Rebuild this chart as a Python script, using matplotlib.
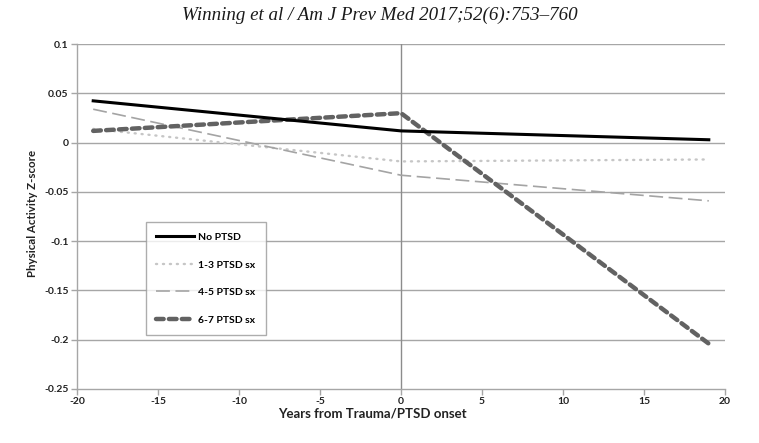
import matplotlib
matplotlib.use("Agg")
import matplotlib.pyplot as plt

plt.rcParams['font.family'] = ['Lato', 'DejaVu Sans']
plt.rcParams['lines.scale_dashes'] = False

# years relative to trauma / PTSD onset
years = [-19, 0, 19]
no_ptsd = [0.0425, 0.012, 0.003]
ptsd_1_3 = [0.014, -0.019, -0.017]
ptsd_4_5 = [0.034, -0.033, -0.059]
ptsd_6_7 = [0.012, 0.030, -0.204]

xticks = [-20, -15, -10, -5, 0, 5, 10, 15, 20]
yticks = [0.1, 0.05, 0, -0.05, -0.1, -0.15, -0.2, -0.25]
ytick_labels = ['0.1', '0.05', '0', '-0.05', '-0.1', '-0.15', '-0.2', '-0.25']

grid_col = '#a6a6a6'

fig = plt.figure(figsize=(7.59, 4.43), dpi=100)
ax = fig.add_axes([77/759, 1 - 389/443, 648/759, 344.8/443])

for y in yticks[:-1]:
    ax.axhline(y, color=grid_col, lw=1.0, zorder=1)
ax.axvline(0, color='#8c8c8c', lw=1.0, zorder=1)

ax.plot(years, no_ptsd, color='black', lw=2.2, label='No PTSD', zorder=5)
ax.plot(years, ptsd_1_3, color='#c6c6c6', lw=1.7, dashes=(0.8, 4.2),
        dash_capstyle='round', label='1-3 PTSD sx', zorder=3)
ax.plot(years, ptsd_4_5, color='#a4a4a4', lw=1.2, dashes=(10, 4),
        label='4-5 PTSD sx', zorder=3)
ax.plot(years, ptsd_6_7, color='#626262', lw=3.2, dashes=(5.5, 3.8),
        dash_capstyle='round', label='6-7 PTSD sx', zorder=4)

ax.set_xlim(-20, 20)
ax.set_ylim(-0.25, 0.1)
ax.set_xticks(xticks)
ax.set_xticklabels([str(t) for t in xticks])
ax.set_yticks(yticks)
ax.set_yticklabels(ytick_labels)
for lab in ax.get_xticklabels() + ax.get_yticklabels():
    lab.set_fontweight('bold')
    lab.set_fontsize(7.5)
    lab.set_color('#222222')
ax.tick_params(axis='both', direction='out', length=4, width=1.0,
               color=grid_col, pad=2)

for s in ['top', 'right']:
    ax.spines[s].set_visible(False)
for s in ['left', 'bottom']:
    ax.spines[s].set_color(grid_col)
    ax.spines[s].set_linewidth(1.0)

leg = ax.legend(loc='upper left', bbox_to_anchor=(0.1065, 0.4835),
                frameon=True, fancybox=False, handlelength=3.6,
                handletextpad=0.4, labelspacing=1.75, borderpad=1.0,
                borderaxespad=0, prop={'weight': 'bold', 'size': 7.5})
leg.get_frame().set_edgecolor('#999999')
leg.get_frame().set_linewidth(1.0)
leg.set_zorder(10)

fig.text(32/759, 1 - 213/443, 'Physical Activity Z-score', rotation=90,
         ha='center', va='center', fontsize=8.3, fontweight='bold', color='#222222')
fig.text(372/759, 1 - 413/443, 'Years from Trauma/PTSD onset',
         ha='center', va='center', fontsize=9.5, fontweight='bold', color='#222222')
fig.text(380/759, 1 - 15/443, 'Winning et al / Am J Prev Med 2017;52(6):753\u2013760',
         ha='center', va='center', fontsize=13.7, style='italic',
         family=['Liberation Serif', 'DejaVu Serif'], color='#1a1a1a')

fig.savefig('out.png', dpi=100)
